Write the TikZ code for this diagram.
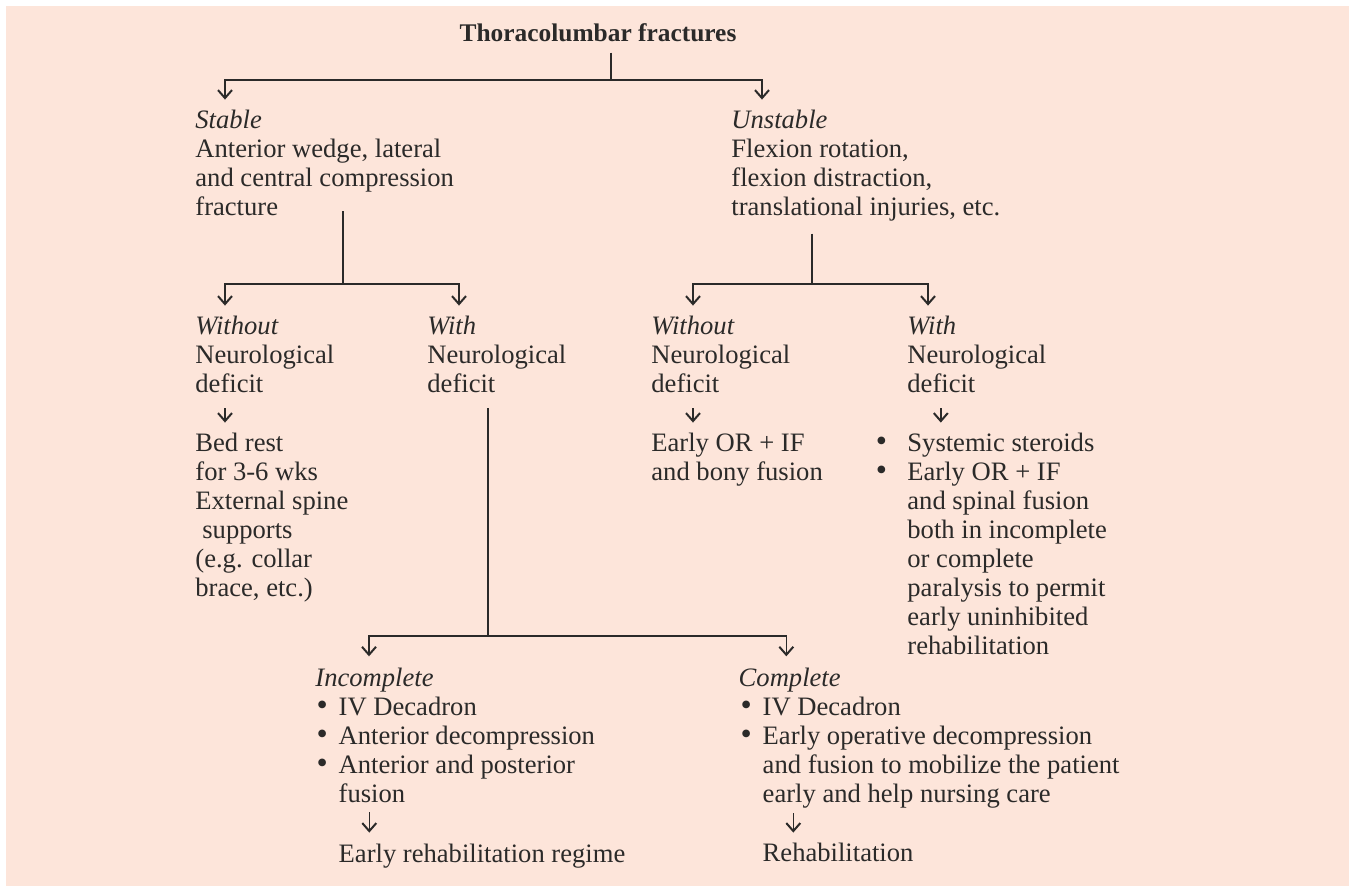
\documentclass[tikz,border=0pt]{standalone}
\usepackage{fontspec}
\setmainfont{Liberation Serif}
\usetikzlibrary{arrows.meta}
\definecolor{panel}{HTML}{FDE5DA}
\definecolor{ink}{HTML}{2B2A29}
\newcommand{\txtlines}[1]{\begin{tabular}[t]{@{}l@{}}#1\end{tabular}}
\newcommand{\bul}[1][5.3pt]{\makebox[0pt][r]{\makebox[6pt]{\fontsize{16}{14.5}\selectfont\textbullet}\hspace{#1}}}

\begin{document}
\begin{tikzpicture}[x=0.5pt,y=-0.5pt,font=\fontsize{13.3}{14.5}\selectfont,text=ink,
txt/.style={anchor=base west,inner sep=0pt},
line/.style={draw=ink,line width=.8pt},
arr/.style={line,-{Straight Barb[length=4pt,width=7pt,line width=1pt]}}]
\useasboundingbox (0,0) rectangle (1349,886);
\fill[panel] (6,6) rectangle (1349,886);
\node[txt,anchor=base,font=\fontsize{12.7}{14.5}\selectfont\bfseries] (title) at (598,42) {Thoracolumbar fractures};
\node[txt] (stable) at (195,129) {\txtlines{\textit{Stable}\\Anterior wedge, lateral\\and central compression\\fracture}};
\node[txt] (unstable) at (731,129) {\txtlines{\textit{Unstable}\\Flexion rotation,\\flexion distraction,\\translational injuries, etc.}};
\node[txt] (sWithout) at (195,335) {\txtlines{\textit{Without}\\Neurological\\deficit}};
\node[txt] (sWith) at (427,335) {\txtlines{\textit{With}\\Neurological\\deficit}};
\node[txt] (uWithout) at (651,335) {\txtlines{\textit{Without}\\Neurological\\deficit}};
\node[txt] (uWith) at (907,335) {\txtlines{\textit{With}\\Neurological\\deficit}};
\node[txt] (sWithoutRx) at (195,451.7) {\txtlines{Bed rest\\for 3-6 wks\\External spine\\\hspace*{3.5pt}supports\\(e.g. collar\\brace, etc.)}};
\node[txt] (uWithoutRx) at (651,451.7) {\txtlines{Early OR + IF\\and bony fusion}};
\node[txt] (uWithRx) at (907,451.7) {\txtlines{\bul[10pt]Systemic steroids\\\bul[10pt]Early OR + IF\\and spinal fusion\\both in incomplete\\or complete\\paralysis to permit\\early uninhibited\\rehabilitation}};
\node[txt] (incomp) at (315,686.7) {\txtlines{\textit{Incomplete}}};
\node[txt] (incompRx) at (338.3,716) {\txtlines{\bul IV Decadron\\\bul Anterior decompression\\\bul Anterior and posterior\\fusion}};
\node[txt] (incompEnd) at (338.3,862.7) {\txtlines{Early rehabilitation regime}};
\node[txt] (comp) at (738.3,686.7) {\txtlines{\textit{Complete}}};
\node[txt] (compRx) at (762.3,716) {\txtlines{\bul IV Decadron\\\bul Early operative decompression\\and fusion to mobilize the patient\\early and help nursing care}};
\node[txt] (compEnd) at (762.3,861.7) {\txtlines{Rehabilitation}};
\coordinate (j0) at (611,80);
\coordinate (j1) at (343,284);
\coordinate (j2) at (812,284);
\coordinate (j3) at (488,636);
\draw[line,shorten <=5pt] (title.south -| j0) -- (j0);
\draw[arr] (j0) -| ([xshift=15pt,yshift=4.35pt]stable.north west);
\draw[arr] (j0) -| ([xshift=15.5pt,yshift=4.35pt]unstable.north west);
\draw[line,shorten <=-6.85pt] (stable.south -| j1) -- (j1);
\draw[arr] (j1) -| ([xshift=15pt,yshift=4.35pt]sWithout.north west);
\draw[arr] (j1) -| ([xshift=16pt,yshift=4.35pt]sWith.north west);
\draw[line,shorten <=4.3pt] (unstable.south -| j2) -- (j2);
\draw[arr] (j2) -| ([xshift=21pt,yshift=4.35pt]uWithout.north west);
\draw[arr] (j2) -| ([xshift=10.5pt,yshift=4.35pt]uWith.north west);
\draw[arr,shorten <=3.15pt] ([xshift=15pt]sWithout.south west) -- ([xshift=15pt,yshift=4.2pt]sWithoutRx.north west);
\draw[arr,shorten <=3.15pt] ([xshift=21pt]uWithout.south west) -- ([xshift=21pt,yshift=4.2pt]uWithoutRx.north west);
\draw[arr,shorten <=3.15pt] ([xshift=16.9pt]uWith.south west) -- ([xshift=16.9pt,yshift=4.2pt]uWithRx.north west);
\draw[line,shorten <=3.15pt] (sWith.south -| j3) -- (j3);
\draw[arr] (j3) -| ([xshift=27pt,yshift=4.85pt]incomp.north west);
\draw[arr] (j3) -| ([xshift=24pt,yshift=4.85pt]comp.north west);
\draw[arr] ([xshift=15.5pt]incompRx.south west) -- ([xshift=15.5pt,yshift=4.7pt]incompEnd.north west);
\draw[arr,shorten <=.5pt] ([xshift=15.5pt]compRx.south west) -- ([xshift=15.5pt,yshift=4.2pt]compEnd.north west);
\end{tikzpicture}
\end{document}
